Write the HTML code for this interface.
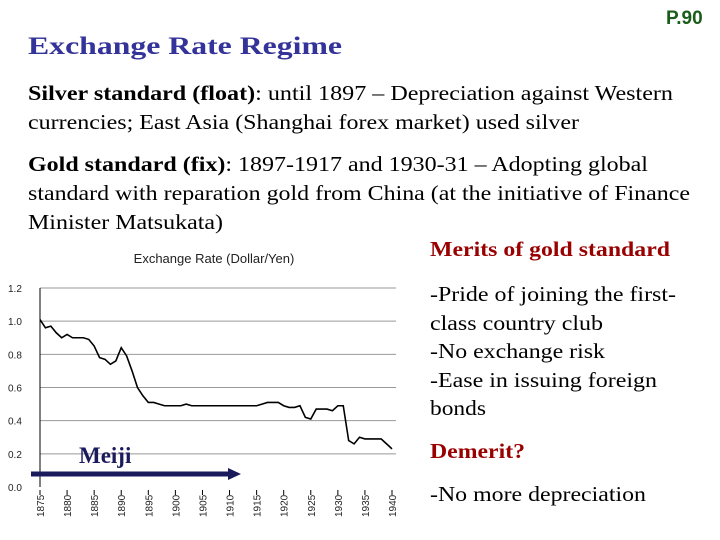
<!DOCTYPE html>
<html><head><meta charset="utf-8"><style>
html,body{margin:0;padding:0;background:#fff;width:720px;height:540px;overflow:hidden}
svg{display:block}
.b{font-family:"Liberation Serif",serif;font-size:21px;fill:#000}
.r{font-family:"Liberation Serif",serif;font-size:21px;fill:#000}
.ax{font-family:"Liberation Sans",sans-serif;font-size:10px;fill:#222}
</style></head><body>
<svg id="s" width="720" height="540" viewBox="0 0 720 540" xmlns="http://www.w3.org/2000/svg">
<text x="666" y="24" font-family="Liberation Sans,sans-serif" font-weight="bold" font-size="19" fill="#1a5c1a">P.90</text>
<text x="28" y="54" font-family="Liberation Serif,serif" font-weight="bold" font-size="25" fill="#333399" textLength="314" lengthAdjust="spacingAndGlyphs">Exchange Rate Regime</text>
<g>
<text class="b" x="28" y="100" textLength="645" lengthAdjust="spacingAndGlyphs"><tspan font-weight="bold">Silver standard (float)</tspan>: until 1897 – Depreciation against Western</text>
<text class="b" x="28" y="129" textLength="551" lengthAdjust="spacingAndGlyphs">currencies; East Asia (Shanghai forex market) used silver</text>
<text class="b" x="28" y="171" textLength="620" lengthAdjust="spacingAndGlyphs"><tspan font-weight="bold">Gold standard (fix)</tspan>: 1897-1917 and 1930-31 – Adopting global</text>
<text class="b" x="28" y="200" textLength="662" lengthAdjust="spacingAndGlyphs">standard with reparation gold from China (at the initiative of Finance</text>
<text class="b" x="28" y="229" textLength="195" lengthAdjust="spacingAndGlyphs">Minister Matsukata)</text>
</g>
<g>
<text x="430" y="256" font-family="Liberation Serif,serif" font-weight="bold" font-size="21" fill="#990000" textLength="240" lengthAdjust="spacingAndGlyphs">Merits of gold standard</text>
<text class="r" x="430" y="301" textLength="246" lengthAdjust="spacingAndGlyphs">-Pride of joining the first-</text>
<text class="r" x="430" y="330" textLength="173" lengthAdjust="spacingAndGlyphs">class country club</text>
<text class="r" x="430" y="358" textLength="175" lengthAdjust="spacingAndGlyphs">-No exchange risk</text>
<text class="r" x="430" y="387" textLength="227" lengthAdjust="spacingAndGlyphs">-Ease in issuing foreign</text>
<text class="r" x="430" y="415" textLength="56" lengthAdjust="spacingAndGlyphs">bonds</text>
<text x="430" y="458" font-family="Liberation Serif,serif" font-weight="bold" font-size="21" fill="#990000" textLength="95" lengthAdjust="spacingAndGlyphs">Demerit?</text>
<text class="r" x="430" y="501" textLength="216" lengthAdjust="spacingAndGlyphs">-No more depreciation</text>
</g>
<text x="214" y="263" text-anchor="middle" font-family="Liberation Sans,sans-serif" font-size="13" fill="#222">Exchange Rate (Dollar/Yen)</text>
<g id="chart"></g>
<text x="79" y="463" font-family="Liberation Serif,serif" font-weight="bold" font-size="23" fill="#1a1a5c">Meiji</text>
<g>
<line x1="31" y1="474" x2="230" y2="474" stroke="#1a1a5c" stroke-width="5"/>
<polygon points="228,468 241,474 228,480" fill="#1a1a5c"/>
</g>
</svg>
<script>
const years=[1875,1876,1877,1878,1879,1880,1881,1882,1883,1884,1885,1886,1887,1888,1889,1890,1891,1892,1893,1894,1895,1896,1897,1898,1899,1900,1901,1902,1903,1904,1905,1906,1907,1908,1909,1910,1911,1912,1913,1914,1915,1916,1917,1918,1919,1920,1921,1922,1923,1924,1925,1926,1927,1928,1929,1930,1931,1932,1933,1934,1935,1936,1937,1938,1939,1940];
const rates=[1.01,0.96,0.97,0.93,0.90,0.92,0.90,0.90,0.90,0.89,0.85,0.78,0.77,0.74,0.76,0.84,0.79,0.70,0.60,0.55,0.51,0.51,0.50,0.49,0.49,0.49,0.49,0.50,0.49,0.49,0.49,0.49,0.49,0.49,0.49,0.49,0.49,0.49,0.49,0.49,0.49,0.50,0.51,0.51,0.51,0.49,0.48,0.48,0.49,0.42,0.41,0.47,0.47,0.47,0.46,0.49,0.49,0.28,0.26,0.30,0.29,0.29,0.29,0.29,0.26,0.23];
const yTicks=[0,0.2,0.4,0.6,0.8,1.0,1.2];
const xTicks=[1875,1880,1885,1890,1895,1900,1905,1910,1915,1920,1925,1930,1935,1940];
const NS="http://www.w3.org/2000/svg";
const L=40,R=396,T=288,B=487;
const xs=v=>L+(v-1875)*(392-40)/65;
const ys=v=>B-(v/1.2)*(B-T);
const g=document.getElementById('chart');
function mk(t,a){const e=document.createElementNS(NS,t);for(const k in a)e.setAttribute(k,a[k]);g.appendChild(e);return e;}
yTicks.forEach(v=>{
 if(v>0){const l=mk('line',{x1:L,x2:R,y1:ys(v),y2:ys(v),stroke:'#999','stroke-width':1});
 
 }
 const t=mk('text',{x:8,y:ys(v)+4,class:'ax'});t.textContent=v.toFixed(1);
 
 
});
const ax=mk('line',{x1:L,x2:L,y1:T,y2:B,stroke:'#000','stroke-width':1});


xTicks.forEach(v=>{
 const x=xs(v);
 mk('line',{x1:x,x2:x,y1:B+3,y2:B+8,stroke:'#000'});
 const t=mk('text',{class:'ax',transform:`translate(${x+4},${B+30}) rotate(-90)`});t.textContent=v;
 
 
});
const p=mk('polyline',{points:years.map((y,i)=>xs(y)+','+ys(rates[i])).join(' '),fill:'none',stroke:'#000','stroke-width':1.6});


</script>
</body></html>
